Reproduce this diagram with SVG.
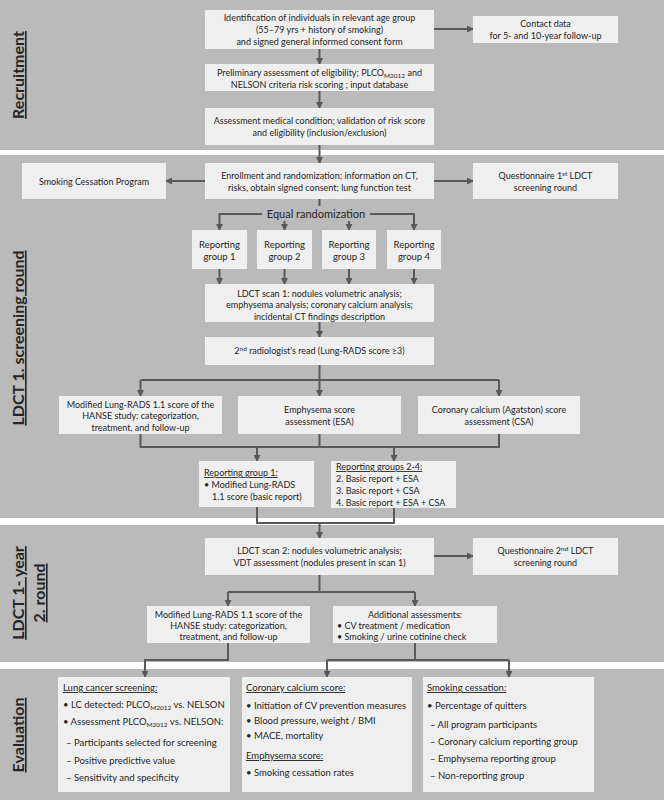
<svg xmlns="http://www.w3.org/2000/svg" width="664" height="800" viewBox="0 0 664 800">
<style>
.band{fill:#bababa}
.sep{fill:#ffffff}
.box{fill:#efefef}
text{font-family:Lato,"Open Sans",sans-serif;font-size:9px;fill:#262626}
.c{text-anchor:middle}
.side{font-size:16px;font-weight:bold;text-anchor:middle;text-decoration:underline}
.big{font-size:11px}
.mid{font-size:9.5px}
.u{text-decoration:underline}
.ln{fill:none;stroke:#595959;stroke-width:2}
.ar{fill:none;stroke:#595959;stroke-width:2;marker-end:url(#ah)}
</style>
<defs>
<marker id="ah" markerUnits="userSpaceOnUse" markerWidth="7" markerHeight="7" refX="6" refY="3.5" orient="auto">
<path d="M0,0 L7,3.5 L0,7 z" fill="#595959"/>
</marker>
</defs>
<g id="bands">
<rect class="band" x="0" y="0" width="664" height="150"/>
<rect class="sep" x="0" y="150" width="664" height="5"/>
<rect class="band" x="0" y="155" width="664" height="363"/>
<rect class="sep" x="0" y="518" width="664" height="7"/>
<rect class="band" x="0" y="525" width="664" height="137"/>
<rect class="sep" x="0" y="662" width="664" height="7"/>
<rect class="band" x="0" y="669" width="664" height="131"/>
</g>
<g id="side-labels">
<text class="side" transform="translate(24,75) rotate(-90)">Recruitment</text>
<text class="side" transform="translate(24,338) rotate(-90)">LDCT 1. screening round</text>
<text class="side" transform="translate(24,593) rotate(-90)">LDCT 1- year</text>
<text class="side" transform="translate(45,593) rotate(-90)">2. round</text>
<text class="side" transform="translate(24,735) rotate(-90)">Evaluation</text>
</g>
<g id="connectors">
<path class="ar" d="M434,29 H473"/>
<path class="ar" d="M319.5,49 V64"/>
<path class="ar" d="M319.5,91 V108"/>
<path class="ar" d="M319.5,145 V163"/>
<path class="ar" d="M205,181 H166"/>
<path class="ar" d="M434,181 H473"/>
<path class="ln" d="M319.5,199 V206"/>
<path class="ar" d="M262,214 H219.5 V230"/>
<path class="ar" d="M370,214 H414 V230"/>
<path class="ar" d="M284.5,221 V230"/>
<path class="ar" d="M349,221 V230"/>
<path class="ar" d="M219.5,269 V284"/>
<path class="ar" d="M284.5,269 V284"/>
<path class="ar" d="M349,269 V284"/>
<path class="ar" d="M414,269 V284"/>
<path class="ar" d="M319.5,322 V337"/>
<path class="ar" d="M319.5,365 V396"/>
<path class="ar" d="M140.5,380 V396"/>
<path class="ar" d="M499,380 V396"/>
<path class="ln" d="M140.5,380 H499"/>
<path class="ln" d="M140.5,434 V447 H499 V434"/>
<path class="ln" d="M319.5,434 V447"/>
<path class="ar" d="M257,447 V461"/>
<path class="ar" d="M394,447 V461"/>
<path class="ln" d="M257,507 V523 H394 V508"/>
<path class="ar" d="M319.5,523 V538"/>
<path class="ar" d="M434,556 H473"/>
<path class="ln" d="M319.5,575 V592"/>
<path class="ln" d="M228,592 H415"/>
<path class="ar" d="M228,592 V606"/>
<path class="ar" d="M415,592 V606"/>
<path class="ar" d="M228,643 V660 H145 V677"/>
<path class="ln" d="M415,643 V660"/>
<path class="ln" d="M327,660 H509"/>
<path class="ar" d="M327,660 V677"/>
<path class="ar" d="M509,660 V677"/>
</g>
<g id="identification">
<rect class="box" x="205" y="10" width="229" height="39"/>
<text class="c" x="319.5" y="21">Identification of individuals in relevant age group</text>
<text class="c" x="319.5" y="33">(55–79 yrs + history of smoking)</text>
<text class="c" x="319.5" y="45">and signed general informed consent form</text>
</g>
<g id="contact">
<rect class="box" x="473" y="16" width="145" height="27"/>
<text class="c" x="545.5" y="27">Contact data</text>
<text class="c" x="545.5" y="39">for 5- and 10-year follow-up</text>
</g>
<g id="preliminary">
<rect class="box" x="205" y="64" width="229" height="27"/>
<text class="c" x="319.5" y="75.5">Preliminary assessment of eligibility; PLCO<tspan font-size="6.5" dy="2">M2012</tspan><tspan dy="-2"> and</tspan></text>
<text class="c" x="319.5" y="87.5">NELSON criteria risk scoring ; input database</text>
</g>
<g id="medical">
<rect class="box" x="205" y="108" width="229" height="37"/>
<text class="c" x="319.5" y="123.5">Assessment medical condition; validation of risk score</text>
<text class="c" x="319.5" y="136">and eligibility (inclusion/exclusion)</text>
</g>
<g id="smoking-program">
<rect class="box" x="22" y="163" width="144" height="36"/>
<text class="c" x="94" y="184.5">Smoking Cessation Program</text>
</g>
<g id="enrollment">
<rect class="box" x="205" y="163" width="229" height="36"/>
<text class="c" x="319.5" y="178.5">Enrollment and randomization; information on CT,</text>
<text class="c" x="319.5" y="190.5">risks, obtain signed consent; lung function test</text>
</g>
<g id="questionnaire1">
<rect class="box" x="473" y="163" width="145" height="36"/>
<text class="c" x="545.5" y="178.5">Questionnaire 1<tspan font-size="6.5" dy="-3">st</tspan><tspan dy="3"> LDCT</tspan></text>
<text class="c" x="545.5" y="190.5">screening round</text>
</g>
<g id="equal-randomization">
<text class="c big" x="316" y="218">Equal randomization</text>
</g>
<g id="group1">
<rect class="box" x="192" y="230" width="55" height="39"/>
<text class="c mid" x="219.5" y="247.5">Reporting</text>
<text class="c mid" x="219.5" y="260">group 1</text>
</g>
<g id="group2">
<rect class="box" x="257" y="230" width="55" height="39"/>
<text class="c mid" x="284.5" y="247.5">Reporting</text>
<text class="c mid" x="284.5" y="260">group 2</text>
</g>
<g id="group3">
<rect class="box" x="322" y="230" width="54" height="39"/>
<text class="c mid" x="349" y="247.5">Reporting</text>
<text class="c mid" x="349" y="260">group 3</text>
</g>
<g id="group4">
<rect class="box" x="387" y="230" width="54" height="39"/>
<text class="c mid" x="414" y="247.5">Reporting</text>
<text class="c mid" x="414" y="260">group 4</text>
</g>
<g id="ldct-scan1">
<rect class="box" x="205" y="284" width="229" height="38"/>
<text class="c" x="319.5" y="296.5">LDCT scan 1: nodules volumetric analysis;</text>
<text class="c" x="319.5" y="308">emphysema analysis;  coronary calcium analysis;</text>
<text class="c" x="319.5" y="319.5">incidental CT findings description</text>
</g>
<g id="second-read">
<rect class="box" x="205" y="337" width="229" height="28"/>
<text class="c" x="319.5" y="354">2<tspan font-size="6.5" dy="-3">nd</tspan><tspan dy="3"> radiologist’s read (Lung-RADS score ≥3)</tspan></text>
</g>
<g id="lungrads1">
<rect class="box" x="59" y="396" width="163" height="38"/>
<text class="c" x="140.5" y="407.5">Modified Lung-RADS 1.1 score of the</text>
<text class="c" x="140.5" y="419">HANSE study: categorization,</text>
<text class="c" x="140.5" y="430.5">treatment, and follow-up</text>
</g>
<g id="emphysema">
<rect class="box" x="238" y="396" width="163" height="38"/>
<text class="c" x="319.5" y="413">Emphysema score</text>
<text class="c" x="319.5" y="425">assessment (ESA)</text>
</g>
<g id="coronary">
<rect class="box" x="418" y="396" width="162" height="38"/>
<text class="c" x="499" y="413">Coronary calcium (Agatston) score</text>
<text class="c" x="499" y="425">assessment (CSA)</text>
</g>
<g id="report-group1">
<rect class="box" x="199" y="461" width="115" height="46"/>
<text class="u" x="204" y="476">Reporting group 1:</text>
<text x="204" y="488">•  Modified Lung-RADS</text>
<text x="212" y="500">1.1 score (basic report)</text>
</g>
<g id="report-groups24">
<rect class="box" x="331" y="461" width="125" height="47"/>
<text class="u" x="336" y="470">Reporting groups 2-4:</text>
<text x="336" y="482">2.  Basic report + ESA</text>
<text x="336" y="494">3.  Basic report + CSA</text>
<text x="336" y="506">4.  Basic report + ESA + CSA</text>
</g>
<g id="ldct-scan2">
<rect class="box" x="205" y="538" width="229" height="37"/>
<text class="c" x="319.5" y="554">LDCT scan 2: nodules volumetric analysis;</text>
<text class="c" x="319.5" y="565.5">VDT assessment (nodules present in scan 1)</text>
</g>
<g id="questionnaire2">
<rect class="box" x="473" y="538" width="145" height="37"/>
<text class="c" x="545.5" y="554">Questionnaire 2<tspan font-size="6.5" dy="-3">nd</tspan><tspan dy="3"> LDCT</tspan></text>
<text class="c" x="545.5" y="566">screening round</text>
</g>
<g id="lungrads2">
<rect class="box" x="147" y="606" width="163" height="37"/>
<text class="c" x="228.5" y="617.5">Modified Lung-RADS 1.1 score of the</text>
<text class="c" x="228.5" y="628.5">HANSE study: categorization,</text>
<text class="c" x="228.5" y="639.5">treatment, and follow-up</text>
</g>
<g id="additional">
<rect class="box" x="333" y="606" width="164" height="37"/>
<text class="c" x="415" y="617.5">Additional assessments:</text>
<text x="337" y="628.5">•  CV treatment / medication</text>
<text x="337" y="639.5">•  Smoking / urine cotinine check</text>
</g>
<g id="eval-lung">
<rect class="box" x="58" y="677" width="172" height="115"/>
<text class="u mid" x="63" y="691">Lung cancer screening:</text>
<text class="mid" x="63" y="708">•  LC detected: PLCO<tspan font-size="6.5" dy="2">M2012</tspan><tspan dy="-2"> vs. NELSON</tspan></text>
<text class="mid" x="63" y="725">•  Assessment PLCO<tspan font-size="6.5" dy="2">M2012</tspan><tspan dy="-2"> vs. NELSON:</tspan></text>
<text class="mid" x="66" y="746">– Participants selected for screening</text>
<text class="mid" x="66" y="764">– Positive predictive value</text>
<text class="mid" x="66" y="781">– Sensitivity and specificity</text>
</g>
<g id="eval-coronary">
<rect class="box" x="242" y="677" width="170" height="115"/>
<text class="u mid" x="246" y="691">Coronary calcium score:</text>
<text class="mid" x="246" y="709">•  Initiation of CV prevention measures</text>
<text class="mid" x="246" y="724">•  Blood pressure, weight / BMI</text>
<text class="mid" x="246" y="739">•  MACE, mortality</text>
<text class="u mid" x="246" y="759">Emphysema score:</text>
<text class="mid" x="246" y="776">•  Smoking cessation rates</text>
</g>
<g id="eval-smoking">
<rect class="box" x="423" y="677" width="171" height="115"/>
<text class="u mid" x="427" y="691">Smoking cessation:</text>
<text class="mid" x="427" y="709">•  Percentage of quitters</text>
<text class="mid" x="430" y="728">– All program participants</text>
<text class="mid" x="430" y="745">– Coronary calcium reporting group</text>
<text class="mid" x="430" y="762">– Emphysema reporting group</text>
<text class="mid" x="430" y="779">– Non-reporting group</text>
</g>
</svg>
